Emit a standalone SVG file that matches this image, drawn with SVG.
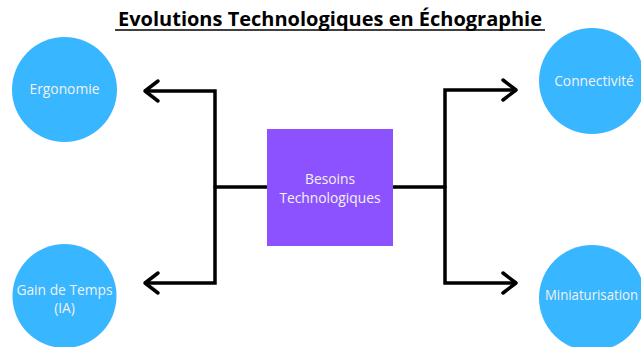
<svg xmlns="http://www.w3.org/2000/svg" width="641" height="347" viewBox="0 0 641 347">
  <defs>
    <style>
      .title { font-family: "Open Sans", "Liberation Sans", sans-serif; font-weight: 700; font-size: 19px; fill: #000; }
      .circle { fill: #38b6ff; }
      .box { fill: #8c52ff; }
      .label { font-family: "Open Sans", "Liberation Sans", sans-serif; font-size: 13.8px; fill: #f2f2f2; text-anchor: middle; }
      .wire { fill: none; stroke: #000; stroke-width: 3.5; stroke-linecap: round; stroke-linejoin: miter; }
      .head { fill: none; stroke: #000; stroke-width: 3.5; stroke-linecap: round; stroke-linejoin: round; }
    </style>
  </defs>
  <rect width="641" height="347" fill="#fff"/>

  <g id="title">
    <text class="title" x="330" y="26" text-anchor="middle" textLength="424" lengthAdjust="spacingAndGlyphs">Evolutions Technologiques en Échographie</text>
    <line x1="115" y1="30" x2="545" y2="30" stroke="#000" stroke-width="1.6"/>
  </g>

  <g id="connectors">
    <!-- left branch -->
    <path class="wire" d="M146 91 H215 V283 H146"/>
    <path class="wire" d="M215 187 H268"/>
    <path class="head" d="M158 81 L145 91 L158 101"/>
    <path class="head" d="M158 273 L145 283 L158 293"/>
    <!-- right branch -->
    <path class="wire" d="M515 90 H445 V283 H515"/>
    <path class="wire" d="M392 187 H445"/>
    <path class="head" d="M503 80 L516 90 L503 100"/>
    <path class="head" d="M503 273 L516 283 L503 293"/>
  </g>

  <g id="besoins">
    <rect class="box" x="267" y="129" width="126" height="117"/>
    <text class="label" x="330" y="184">Besoins</text>
    <text class="label" x="330" y="203">Technologiques</text>
  </g>

  <g id="ergonomie">
    <circle class="circle" cx="64.5" cy="89.5" r="52.5"/>
    <text class="label" x="64.5" y="94">Ergonomie</text>
  </g>

  <g id="gain-de-temps">
    <circle class="circle" cx="64.5" cy="296" r="52"/>
    <text class="label" x="64.5" y="295">Gain de Temps</text>
    <text class="label" x="64.5" y="313">(IA)</text>
  </g>

  <g id="connectivite">
    <circle class="circle" cx="592" cy="81" r="53"/>
    <text class="label" x="594" y="86">Connectivité</text>
  </g>

  <g id="miniaturisation">
    <circle class="circle" cx="592" cy="298" r="53"/>
    <text class="label" x="591.5" y="300" textLength="93" lengthAdjust="spacingAndGlyphs">Miniaturisation</text>
  </g>
</svg>
